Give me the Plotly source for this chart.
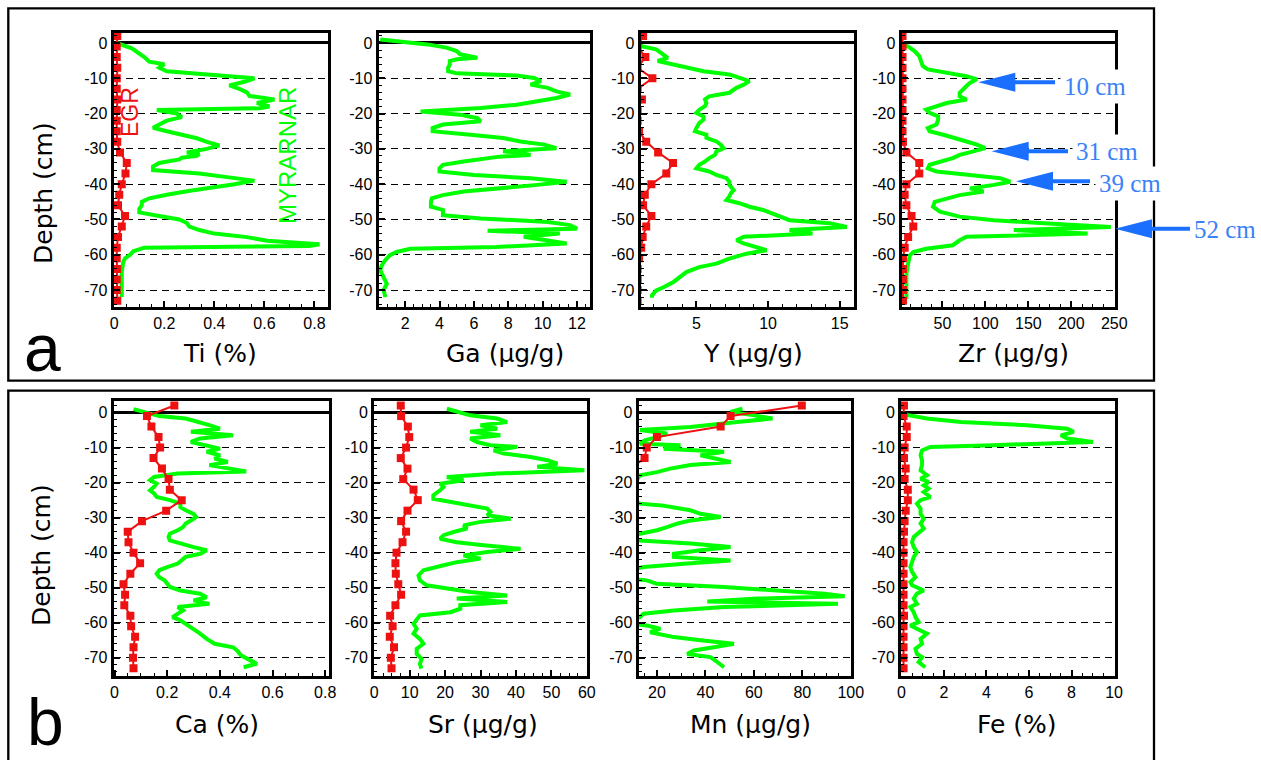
import plotly.graph_objects as go

# ---------------- DATA ----------------
red_depth = [2, -1, -4, -7, -10, -13, -16, -19, -22, -25, -28, -31, -34, -37, -40,
             -43, -46, -49, -52, -55, -58, -61, -64, -67, -70, -73]

ti_depth = [0, -1.5, -4, -5.3, -6, -7, -8, -8.8, -9.3, -10, -11, -12, -13, -14, -15, -16, -17, -18,
            -18.5, -19, -20, -21, -22, -23, -24, -25, -26, -27, -28, -29, -30, -31, -31.5, -32, -32.5,
            -33, -34, -35, -36, -37, -38, -39, -40, -41, -42, -43, -44, -45, -46, -47, -48, -49, -50,
            -51, -52, -53, -54, -55, -56, -57, -57.5, -58, -59, -60, -61, -62, -63, -65, -68, -70, -72]
ti_green = [0.01, 0.07, 0.12, 0.14, 0.2, 0.18, 0.21, 0.36, 0.47, 0.56, 0.52, 0.46, 0.5, 0.53, 0.54, 0.64,
            0.57, 0.62, 0.58, 0.17, 0.25, 0.27, 0.21, 0.18, 0.155, 0.21, 0.28, 0.33, 0.37, 0.42, 0.37,
            0.29, 0.34, 0.33, 0.27, 0.26, 0.18, 0.155, 0.155, 0.34, 0.45, 0.56, 0.48, 0.37, 0.29, 0.21,
            0.14, 0.11, 0.11, 0.10, 0.10, 0.18, 0.26, 0.29, 0.30, 0.34, 0.40, 0.53, 0.61, 0.82, 0.78,
            0.12, 0.076, 0.063, 0.043, 0.036, 0.033, 0.03, 0.03, 0.028, 0.03]
ti_red = [0.012, 0.01, 0.01, 0.012, 0.01, 0.01, 0.012, 0.01, 0.01, 0.01, 0.012, 0.023, 0.05, 0.045,
          0.03, 0.02, 0.015, 0.043, 0.03, 0.015, 0.01, 0.01, 0.012, 0.01, 0.01, 0.012]

ga_depth = [1, 0, -0.4, -1.3, -2.3, -3.2, -4.2, -4.6, -5.1, -6.1, -7, -8, -8.6, -9.2, -9.9, -10.8,
            -11.8, -12.7, -13.7, -14.6, -15.6, -16.5, -17.5, -18.4, -19.4, -20.3, -21.3, -22.2, -23.1,
            -24.1, -25, -26, -26.9, -27.9, -28.8, -29.8, -30.7, -31.2, -31.7, -32.2, -32.6, -33.6,
            -34.5, -35.5, -36.4, -37.4, -38.3, -39.3, -40.2, -41.2, -42.1, -43.1, -44, -45, -46.4,
            -47.3, -48.8, -49.7, -50.7, -51.6, -52.6, -53.2, -54, -54.9, -55.9, -56.8, -57.8, -58.3,
            -59.2, -60.2, -61.6, -63, -64.4, -66.3, -68.2, -70, -72]
ga_green = [0.55, 2.9, 3.3, 4.4, 5.0, 5.2, 6.2, 5.0, 4.6, 4.6, 4.5, 4.5, 5.0, 8.5, 9.5, 9.9, 9.3, 10.3,
            10.8, 11.6, 10.8, 9.7, 8.5, 6.4, 2.9, 5.2, 6.2, 6.4, 4.2, 3.6, 3.6, 5.8, 7.7, 8.7, 10.1,
            10.8, 7.7, 8.8, 9.3, 7.5, 7.0, 5.4, 4.2, 4.0, 4.0, 6.0, 9.3, 11.4, 9.7, 7.3, 5.4, 4.2,
            3.55, 3.5, 3.5, 4.2, 4.2, 6.4, 10.3, 11.6, 12.0, 6.8, 11.0, 8.9, 10.3, 11.4, 7.3, 2.3, 1.5,
            1.1, 0.83, 0.64, 0.55, 0.75, 0.93, 0.75, 0.85]

y_depth = [0, -0.9, -1.8, -3.2, -4.2, -5.1, -6.1, -7, -8, -8.9, -9.9, -10.8, -11.8, -12.7, -14.1,
           -15.1, -16, -17, -17.9, -18.9, -19.8, -20.8, -21.7, -22.7, -24.1, -25, -26, -26.9, -27.9,
           -28.8, -29.8, -30.7, -31.7, -32.6, -33.6, -34.5, -35.5, -36.4, -37.4, -38.3, -39.3, -40.2,
           -41.7, -42.6, -43.5, -44.5, -45.4, -46.4, -47.3, -48.3, -49.2, -50.2, -51.1, -52.1, -53,
           -54, -54.9, -55.9, -56.8, -57.8, -58.7, -59.7, -61.1, -62.5, -63.5, -64.9, -66.3, -67.7,
           -69.2, -70.1, -71.5, -72.2]
y_green = [1.1, 1.16, 2.2, 2.7, 3.0, 2.3, 3.4, 4.3, 5.5, 7.3, 8.0, 8.7, 8.3, 7.8, 7.3, 5.9, 5.6, 5.7,
           5.6, 5.2, 5.0, 5.5, 5.5, 5.2, 5.0, 4.9, 5.7, 5.7, 6.4, 6.7, 6.9, 6.4, 6.3, 5.9, 5.6, 5.2,
           5.0, 5.9, 6.4, 7.1, 7.3, 7.3, 7.6, 7.4, 7.3, 7.1, 8.0, 8.7, 9.65, 10.3, 10.8, 11.5, 14.3,
           15.5, 11.5, 13.1, 8.3, 7.8, 8.3, 9.2, 9.9, 8.5, 7.3, 6.4, 5.2, 4.3, 3.8, 3.4, 2.7, 2.2,
           1.9, 1.9]
y_red = [1.28, 0.9, 1.44, 0.9, 1.93, 0.9, 1.2, 0.9, 0.9, 1.0, 1.5, 2.33, 3.37, 2.9, 1.86, 1.4, 1.28,
         1.86, 1.5, 1.25, 1.15, 1.0, 0.9, 0.9, 0.9, 0.9]

zr_depth = [0, -0.4, -1.3, -2.3, -3.7, -5.1, -6.5, -7.5, -8.4, -9.4, -10.3, -11.3, -12.2, -13.2,
            -14.1, -15.1, -16, -17, -17.9, -18.9, -19.8, -20.8, -21.7, -23.1, -24.1, -25, -26, -26.9,
            -27.9, -28.8, -29.8, -30.7, -31.7, -32.6, -33.6, -34.5, -35.5, -36.4, -37.4, -38.3, -39.3,
            -40.2, -41.2, -42.1, -43.1, -44, -45, -46.4, -47.8, -49.2, -50.2, -51.1, -52.1, -53, -54,
            -54.9, -55.9, -57.3, -58.3, -59.2, -60.2, -62.5, -65.4, -68.2, -71.1, -72.5]
zr_green = [3, 6, 12, 17.5, 23, 25, 27, 33, 58, 78, 90, 82, 78, 74, 70, 70, 78, 55, 43, 31, 35, 45, 45,
            43, 33, 35, 51, 66, 78, 90, 100, 86, 70, 62, 47, 35, 33, 43, 82, 117, 129, 110, 82, 98, 70,
            55, 41, 39, 47, 70, 110, 168, 246, 133, 219, 78, 70, 62, 31, 16, 12, 10, 8, 8, 8, 8]
zr_red = [3.5, 3.5, 3.5, 3.5, 3.5, 3.5, 3.5, 3.5, 3.5, 3.5, 4, 8, 23, 23, 8, 6, 8, 14, 16, 10, 6, 4,
          4, 4, 4, 4]

ca_depth = [1, 0.2, -1, -1.7, -2.7, -3.6, -4.6, -5.5, -6.5, -7.4, -8.4, -9.3, -10.3, -11.2, -12.2,
            -13.1, -14.1, -15, -16, -16.8, -17.4, -18.4, -19.3, -20.3, -21.2, -22.2, -23.1, -24.1,
            -25, -26, -27, -27.9, -28.9, -29.8, -30.8, -31.7, -32.7, -33.6, -34.6, -35.5, -36.5,
            -37.4, -38.4, -39.3, -40.3, -41.2, -42.2, -43.1, -44.1, -45, -46, -47, -47.9, -48.9,
            -49.8, -50.8, -51.7, -52.7, -53.6, -54.6, -55.5, -56.5, -57.4, -58.4, -59.3, -60.3,
            -61.7, -63.1, -64.6, -66, -67, -67.9, -69.3, -70.8, -71.7, -72.7]
ca_green = [0.072, 0.11, 0.17, 0.27, 0.325, 0.36, 0.40, 0.29, 0.45, 0.325, 0.29, 0.34, 0.40, 0.35,
            0.40, 0.38, 0.43, 0.36, 0.45, 0.50, 0.24, 0.15, 0.135, 0.16, 0.15, 0.135, 0.15, 0.16, 0.21,
            0.25, 0.25, 0.27, 0.30, 0.31, 0.29, 0.27, 0.26, 0.24, 0.21, 0.205, 0.21, 0.25, 0.30, 0.35,
            0.325, 0.27, 0.255, 0.24, 0.20, 0.17, 0.16, 0.17, 0.19, 0.20, 0.21, 0.25, 0.325, 0.35,
            0.30, 0.36, 0.24, 0.26, 0.24, 0.22, 0.25, 0.27, 0.30, 0.325, 0.35, 0.38, 0.45, 0.465,
            0.48, 0.515, 0.54, 0.49]
ca_red = [0.227, 0.123, 0.14, 0.167, 0.173, 0.148, 0.18, 0.205, 0.21, 0.255, 0.196, 0.104, 0.05,
          0.053, 0.072, 0.097, 0.06, 0.034, 0.04, 0.037, 0.06, 0.063, 0.078, 0.072, 0.07, 0.072]

sr_depth = [1.1, 0.2, -0.8, -1.7, -2.7, -3.6, -4.6, -5.5, -6.5, -7.4, -8.4, -9.3, -9.8, -10.8, -11.7,
            -12.7, -13.6, -14.6, -15.5, -16.5, -17.4, -18.4, -19.3, -20.3, -21.2, -22.2, -23.6,
            -24.6, -25.5, -26.5, -27.4, -28.4, -29.3, -30.3, -31.2, -32.2, -33.1, -34.1, -35, -36,
            -37, -37.9, -38.9, -39.8, -40.8, -41.7, -42.7, -43.6, -45, -46.5, -47.9, -49.3, -50.3,
            -51.2, -52.2, -53.1, -54.1, -55, -56, -57, -57.9, -58.9, -60.3, -61.7, -63.1, -64.6, -66,
            -67.4, -68.9, -70.3, -71.7, -73.1]
sr_green = [20.5, 23.3, 27.1, 34.7, 37.5, 30, 34.7, 27.1, 35.6, 27.1, 29, 32.8, 40.4, 33.7, 36.6,
            44.1, 48.9, 51.7, 46, 59.3, 34.7, 20.5, 25.2, 18.6, 19.6, 18.6, 16.7, 16.7, 21.5, 27.1,
            31.9, 32.8, 31.9, 38.5, 30, 25.2, 26.2, 22.4, 19.6, 18.6, 23.3, 30.9, 41.3, 31.9, 25.2,
            30, 23.3, 19.6, 13.9, 12.5, 12.9, 14.8, 20.5, 27.1, 37.5, 23.3, 37.5, 24.3, 24.3, 21.5,
            12.9, 12.0, 11.1, 12.0, 11.1, 12.9, 13.9, 12.0, 12.0, 13.4, 12.9, 13.3]
sr_red = [7.5, 7.6, 9.5, 9.9, 9.0, 7.5, 9.4, 8.2, 11.1, 12.3, 9.4, 7.6, 9.0, 8.0, 6.3, 6.0, 6.1, 6.8,
          7.6, 6.0, 4.5, 5.2, 4.4, 5.6, 4.7, 4.9]

mn_depth = [1.1, 0.2, -0.8, -1.7, -2.7, -3.6, -4.1, -5, -6, -7, -7.9, -8.9, -9.3, -10.3, -11.2,
            -12.2, -13.1, -14.1, -15, -16, -17, -17.9, -18.9, -20, -24, -25.5, -26, -26.5, -27,
            -27.9, -28.9, -29.8, -30.8, -31.7, -32.7, -33.6, -34.6, -35.5, -36.2, -36.5, -37.4,
            -38.4, -39.3, -40.3, -41.2, -42.2, -43.1, -44.1, -45, -47.3, -47.9, -48.9, -49.8, -50.8,
            -51.7, -52.4, -53.1, -53.9, -54.6, -55.5, -56.5, -57.4, -58.4, -59.2, -60.2, -60.8,
            -61.7, -62.7, -64.1, -65, -66, -67, -67.9, -68.9, -69.8, -71.2, -72.7]
mn_green = [55.3, 50.4, 60.1, 67.7, 53.2, 38, 33.8, 13, 24.2, 20, 15, 13, 29.7, 22.8, 47.7, 38, 44.9,
            50.4, 33.8, 25.5, 20, 13, 12, 8, 8, 12, 13, 22, 27, 33.8, 38, 46.3, 33.8, 28.3, 24.2, 20,
            13, 8, 8, 13, 33.8, 50.4, 38, 27, 27, 50.4, 32.5, 14.5, 8, 8, 15.8, 20, 47.7, 69.8, 89.2,
            97.5, 61.5, 40.8, 94.7, 47.7, 27, 14.5, 13, 8, 8, 15.8, 21.4, 17.2, 27, 38, 51.8, 43.5,
            35.2, 32.5, 42.1, 44.9, 47.7]
mn_red = [79.8, 50.4, 46.3, 20, 15.8, 14.9, 9, 9, 9, 9, 9, 9, 9, 9, 9, 9, 9, 9, 9, 9, 9, 9, 9, 9, 9, 9]

fe_depth = [0, -0.6, -1.7, -2.7, -3.6, -4.6, -5.5, -6.5, -7.4, -8.4, -9.3, -9.8, -10.8, -12.2, -13.6,
            -15, -16.5, -17.9, -18.9, -19.8, -20.8, -21.7, -22.7, -24.1, -25, -26, -27.4, -28.9,
            -30.3, -31.7, -33.1, -34.6, -35.5, -37, -38.4, -39.8, -41.2, -42.7, -44.1, -45.5, -47,
            -48.4, -49.3, -50.8, -51.7, -53.1, -54.6, -55.5, -57, -58.4, -59.8, -60.8, -62.2, -63.1,
            -64.6, -66, -67.4, -68.9, -69.8, -71.2, -72.7]
fe_green = [0.05, 0.19, 1.2, 2.8, 5.9, 7.8, 8.1, 7.5, 7.8, 9.0, 4.3, 1.36, 0.97, 0.9, 0.97, 0.97, 0.9,
            1.2, 0.9, 1.28, 1.05, 1.28, 1.05, 1.36, 0.9, 0.73, 0.9, 0.9, 1.05, 0.9, 1.05, 0.73, 0.58,
            0.5, 0.58, 0.73, 0.58, 0.5, 0.42, 0.5, 0.66, 0.42, 0.5, 1.05, 0.73, 0.58, 0.73, 0.42, 0.58,
            0.66, 0.81, 0.42, 0.9, 1.2, 0.9, 0.97, 0.66, 0.73, 0.97, 0.81, 1.12]
fe_red = [0.12, 0.1, 0.25, 0.25, 0.15, 0.12, 0.2, 0.15, 0.3, 0.3, 0.2, 0.15, 0.12, 0.1, 0.1, 0.1, 0.1,
          0.1, 0.1, 0.1, 0.12, 0.1, 0.1, 0.1, 0.1, 0.1]

depth_ticks = [0, -10, -20, -30, -40, -50, -60, -70]
depth_tick_text = ["0", "-10", "-20", "-30", "-40", "-50", "-60", "-70"]

titles = ["Ti (%)", "Ga (µg/g)", "Y (µg/g)", "Zr (µg/g)", "Ca (%)", "Sr (µg/g)", "Mn (µg/g)", "Fe (%)"]
peak_labels = ["10 cm", "31 cm", "39 cm", "52 cm"]

# ---------------- LAYOUT / STYLE ----------------
W, H = 1261, 760
def fx(p): return p / W
def fy(p): return 1 - p / H

GREEN = "#00ff00"
RED = "#ee1111"
BLUE = "#1a6fff"
FONT = "Liberation Sans"
TFONT = "DejaVu Sans"

rows = [dict(ypx=(33, 307), yrange=[-74.8, 2.83], title_y=353),
        dict(ypx=(401, 676), yrange=[-75.2, 3.3], title_y=724)]

panels = [
    dict(d=ti_depth, g=ti_green, r=ti_red, row=0, xpx=(113.5, 327.5), xr=[-0.003, 0.852], dt=0.2, mn=0.05, tx=220),
    dict(d=ga_depth, g=ga_green, r=None, row=0, xpx=(378.5, 589.5), xr=[0.45, 12.73], dt=2, mn=0.5, tx=505),
    dict(d=y_depth, g=y_green, r=y_red, row=0, xpx=(640.5, 854), xr=[1.1, 16], dt=5, mn=1, tx=753),
    dict(d=zr_depth, g=zr_green, r=zr_red, row=0, xpx=(901.5, 1114.5), xr=[2.3, 250.3], dt=50, mn=12.5, tx=1013),
    dict(d=ca_depth, g=ca_green, r=ca_red, row=1, xpx=(113.5, 328.5), xr=[-0.004, 0.8125], dt=0.2, mn=0.05, tx=217),
    dict(d=sr_depth, g=sr_green, r=sr_red, row=1, xpx=(374, 587), xr=[-0.05, 60.05], dt=10, mn=2.5, tx=483),
    dict(d=mn_depth, g=mn_green, r=mn_red, row=1, xpx=(638.5, 851), xr=[12.4, 100.1], dt=20, mn=5, tx=750),
    dict(d=fe_depth, g=fe_green, r=fe_red, row=1, xpx=(901, 1114.5), xr=[-0.02, 10.02], dt=2, mn=0.5, tx=1017),
]

fig = go.Figure()
layout = {}
annotations = []
for i, p in enumerate(panels):
    k = i + 1
    sx = "" if k == 1 else str(k)
    row = rows[p["row"]]
    fig.add_trace(go.Scatter(x=p["g"], y=p["d"], mode="lines", xaxis="x" + sx, yaxis="y" + sx,
                             line=dict(color=GREEN, width=4), showlegend=False, hoverinfo="skip"))
    if p["r"] is not None:
        fig.add_trace(go.Scatter(x=p["r"], y=red_depth, mode="lines+markers", xaxis="x" + sx,
                                 yaxis="y" + sx, line=dict(color=RED, width=2),
                                 marker=dict(symbol="square", size=8, color=RED),
                                 showlegend=False, hoverinfo="skip"))
    layout["xaxis" + sx] = dict(
        domain=[fx(p["xpx"][0]), fx(p["xpx"][1])], range=p["xr"], anchor="y" + sx,
        showgrid=False, zeroline=False, showline=True, mirror=True, linecolor="black", linewidth=3,
        ticks="inside", ticklen=6, tickwidth=1.5, tickcolor="black", tick0=0, dtick=p["dt"],
        tickfont=dict(family=FONT, size=16, color="black"), automargin=False,
        minor=dict(ticks="inside", ticklen=3, tickwidth=1, tickcolor="black", tick0=0, dtick=p["mn"],
                   showgrid=False),
        fixedrange=True)
    layout["yaxis" + sx] = dict(
        domain=[fy(row["ypx"][1]), fy(row["ypx"][0])], range=row["yrange"], anchor="x" + sx,
        tickmode="array", tickvals=depth_ticks, ticktext=depth_tick_text,
        showgrid=True, gridcolor="black", gridwidth=1, griddash="7px,5px",
        zeroline=True, zerolinecolor="black", zerolinewidth=3,
        showline=True, mirror=True, linecolor="black", linewidth=3,
        ticks="inside", ticklen=6, tickwidth=1.5, tickcolor="black",
        tickfont=dict(family=FONT, size=16, color="black"), automargin=False,
        minor=dict(ticks="inside", ticklen=3, tickwidth=1, tickcolor="black", tickmode="linear",
                   tick0=0, dtick=2, showgrid=False),
        fixedrange=True)
    annotations.append(dict(text=titles[i], x=fx(p["tx"]), y=fy(row["title_y"]), xref="paper",
                            yref="paper", showarrow=False, xanchor="center", yanchor="middle",
                            font=dict(family=TFONT, size=25, color="black")))

# y-axis titles and panel letters (kept fully inside the page)
for ycen, ylab_x in [(193, 43), (555, 41)]:
    annotations.append(dict(text="Depth (cm)", x=fx(ylab_x), y=fy(ycen), xref="paper", yref="paper",
                            showarrow=False, textangle=-90, xanchor="center", yanchor="middle",
                            font=dict(family=TFONT, size=25, color="black")))
annotations.append(dict(text="a", x=fx(43), y=fy(348), xref="paper", yref="paper", showarrow=False,
                        xanchor="center", yanchor="middle", font=dict(family=FONT, size=66, color="black")))
annotations.append(dict(text="b", x=fx(45), y=fy(759.5), xref="paper", yref="paper", showarrow=False,
                        xanchor="center", yanchor="bottom", borderpad=0,
                        font=dict(family=FONT, size=66, color="black")))

# series labels
annotations.append(dict(text="EGR", x=fx(130), y=fy(112), xref="paper", yref="paper", showarrow=False,
                        textangle=-90, xanchor="center", yanchor="middle",
                        font=dict(family=FONT, size=23, color=RED)))
annotations.append(dict(text="MYRARNAR", x=fx(288), y=fy(156), xref="paper", yref="paper",
                        showarrow=False, textangle=-90, xanchor="center", yanchor="middle",
                        font=dict(family=FONT, size=24, color=GREEN)))

# panel boxes (box b is open at the page bottom)
shapes = [
    dict(type="rect", xref="paper", yref="paper", x0=fx(8.3), x1=fx(1154), y0=fy(380.7), y1=fy(8.3),
         line=dict(color="black", width=2.3)),
    dict(type="path", xref="paper", yref="paper",
         path="M {},{} L {},{} L {},{} L {},{}".format(fx(8.3), fy(760), fx(8.3), fy(390.7),
                                                      fx(1154), fy(390.7), fx(1154), fy(760)),
         line=dict(color="black", width=2.3)),
]

# arrows pointing at Zr peaks (tip px, tail px, y px) and their labels
arrows = [(978.3, 1055, 82.2, 1095, 86), (991.7, 1068, 151.2, 1107, 152),
          (1016, 1090, 181.2, 1130, 184), (1115, 1190, 228.7, 1225, 230)]
HL, HW = 37, 9.5
for j, ((tip, tail, yy, lx, ly), lab) in enumerate(zip(arrows, peak_labels)):
    shapes.append(dict(type="line", xref="paper", yref="paper", x0=fx(tip + HL - 2), x1=fx(tail),
                       y0=fy(yy), y1=fy(yy), line=dict(color=BLUE, width=4)))
    path = "M {},{} L {},{} L {},{} Z".format(fx(tip), fy(yy), fx(tip + HL), fy(yy - HW),
                                              fx(tip + HL), fy(yy + HW))
    shapes.append(dict(type="path", xref="paper", yref="paper", path=path,
                       fillcolor=BLUE, line=dict(color=BLUE, width=0)))
    last = j == len(arrows) - 1
    annotations.append(dict(text=lab, x=fx(lx), y=fy(ly), xref="paper", yref="paper", showarrow=False,
                            xanchor="center", yanchor="middle",
                            bgcolor="rgba(0,0,0,0)" if last else "white", borderpad=0 if last else 3,
                            font=dict(family="Liberation Serif", size=25, color="#3b82f6")))

fig.update_layout(width=W, height=H,
                  margin=dict(l=0, r=0, t=0, b=0, pad=0, autoexpand=False),
                  paper_bgcolor="white", plot_bgcolor="white", showlegend=False,
                  annotations=annotations, shapes=shapes, **layout)

fig.write_html("out.html", config={"displayModeBar": False, "responsive": False},
               post_script="document.body.style.margin='0';document.body.style.padding='0';"
                           "document.body.style.overflow='hidden';"
                           "document.documentElement.style.overflow='hidden';")
